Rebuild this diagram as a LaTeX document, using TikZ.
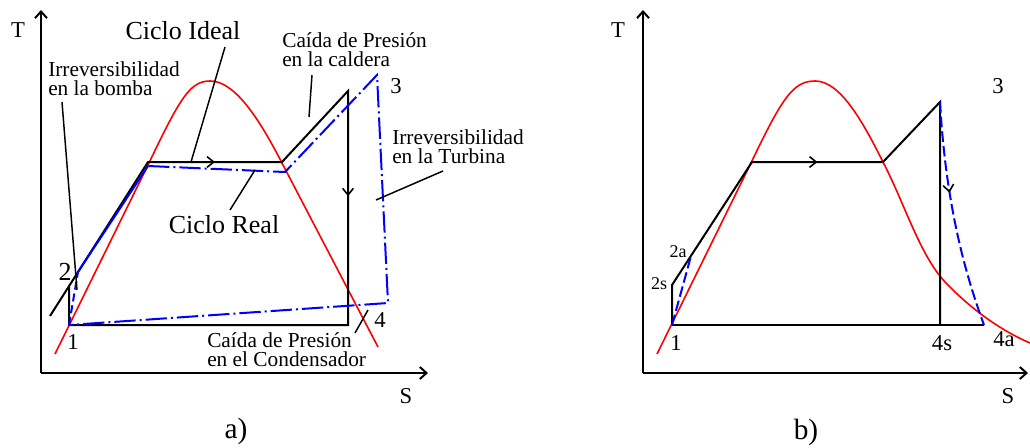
\documentclass[tikz,border=0pt]{standalone}
\usepackage{fontspec}
\setmainfont{Liberation Serif}
\usepackage{xcolor}
\usepackage{tikz}
\usetikzlibrary{arrows.meta,decorations.markings}
\definecolor{tsred}{RGB}{255,0,0}
\definecolor{tsblue}{RGB}{0,0,255}
\newcommand{\fgrande}{\fontsize{19.5}{22}\selectfont}
\newcommand{\fmedia}{\fontsize{16}{13.9}\selectfont}
\newcommand{\fejes}{\fontsize{17}{19}\selectfont}
\newcommand{\fpie}{\fontsize{22}{24}\selectfont}
\newcommand{\fchica}{\fontsize{13.5}{15}\selectfont}

\tikzset{
  ejes/.style={line width=1.5pt,-{Straight Barb[length=5pt,width=9pt]}},
  ideal/.style={line width=1.5pt,line join=miter},
  real/.style={line width=1.5pt,tsblue,dash pattern=on 16pt off 3pt on 1.5pt off 3pt},
  campana/.style={line width=1.2pt,tsred},
  guia/.style={line width=1.1pt},
  midarrow/.style={postaction={decorate,decoration={markings,
    mark=at position #1 with {\arrow[black,line width=1.2pt]{Straight Barb[length=5pt,width=8pt]}}}}},
  etq/.style={inner sep=0pt,anchor=base},
  etql/.style={inner sep=0pt,anchor=base west,align=left,font=\fmedia},
}

\begin{document}
\begin{tikzpicture}[x=0.75pt,y=-0.75pt]
  \useasboundingbox (0,0) rectangle (1030,447);

  % ---- a) ----
  \coordinate (aO) at (41,373);
  \coordinate (aT) at (41,10);
  \coordinate (aS) at (428,373);
  \draw[ejes] (aO) -- (aT);
  \draw[ejes] (aO) -- (aS);

  % campana de saturacion
  \draw[campana] (55,354) -- (148,165)
    .. controls (180,98) and (190,81) .. (210,81)
    .. controls (232,81) and (255,110) .. (283,165) -- (378,347);

  % ciclo ideal
  \coordinate (a1) at (69,325);
  \coordinate (a2) at (69,287);
  \coordinate (a2b) at (50,316);
  \coordinate (af) at (148,162);
  \coordinate (ag) at (282,162);
  \coordinate (a3) at (348,91);
  \coordinate (a4) at (348,325);
  \draw[ideal] (a2b) -- (af) -- (ag) -- (a3) -- (a4) -- (a1) -- (a2);
  \draw[ideal,midarrow=0.5] (af) -- (ag);
  \draw[ideal,midarrow=0.45] (a3) -- (a4);

  % ciclo real
  \coordinate (r2) at (78,272);
  \coordinate (rf) at (148,166);
  \coordinate (rg) at (285,172);
  \coordinate (r3) at (377,75);
  \coordinate (r4) at (388,303);
  \draw[real,dash pattern=on 6pt off 3pt] (a1) -- (r2);
  \draw[line width=1.5pt,tsblue] (r2) -- (rf);
  \draw[real] (rf) -- (rg) -- (r3) -- (r4) -- (a1);

  % lineas guia
  \draw[guia] (62,102) -- (77,290);
  \draw[guia] (225,47) -- (191,162);
  \draw[guia] (312,75) -- (309,117);
  \draw[guia] (443,171) -- (376,200);
  \draw[guia] (255,170) -- (230,210);
  \draw[guia] (368,310) -- (355,333);

  \node[etq,font=\fejes] (aTlab) at (18,37) {T};
  \node[etq,font=\fejes] (aSlab) at (406,403) {S};
  \node[etq,font=\fpie] (alab) at (236,438) {a)};
  \node[etq,font=\fgrande] (ideal) at (183,39) {Ciclo Ideal};
  \node[etq,font=\fgrande] (realc) at (224,233) {Ciclo Real};
  \node[etql] (cald) at (282,66) {Caída de Presión\\en la caldera};
  \node[etql] (bomb) at (48,95) {Irreversibilidad\\en la bomba};
  \node[etql] (turb) at (392,163) {Irreversibilidad\\en la Turbina};
  \node[etql] (cond) at (207,366) {Caída de Presión\\en el Condensador};
  \node[etq,font=\fejes] (n3a) at (396,93) {3};
  \node[etq,font=\fgrande] (n2a) at (65,280) {2};
  \node[etq,font=\fejes] (n1a) at (73,349) {1};
  \node[etq,font=\fejes] (n4a) at (380,327) {4};

  % ---- b) ----
  \coordinate (bO) at (643,373);
  \coordinate (bT) at (643,10);
  \coordinate (bS) at (1028,373);
  \draw[ejes] (bO) -- (bT);
  \draw[ejes] (bO) -- (bS);

  \draw[campana] (657,354) -- (750,165)
    .. controls (782,98) and (793,81) .. (815,81)
    .. controls (840,81) and (862,120) .. (884,164)
    .. controls (905,205) and (920,255) .. (945,282)
    .. controls (965,303) and (995,328) .. (1030,343);

  \coordinate (b1) at (672,325);
  \coordinate (b2s) at (672,285);
  \coordinate (b2a) at (691,256);
  \coordinate (bf) at (752,162);
  \coordinate (bg) at (883,162);
  \coordinate (b3) at (940,102);
  \coordinate (b4s) at (940,325);
  \coordinate (b4a) at (984,325);
  \draw[ideal] (b1) -- (b2s) -- (bf) -- (bg) -- (b3) -- (b4s);
  \draw[ideal] (b1) -- (b4a);
  \draw[ideal,midarrow=0.5] (bf) -- (bg);

  \draw[line width=1.5pt,tsblue,dash pattern=on 8pt off 3pt] (b1) -- (b2a);
  \draw[line width=1.5pt,tsblue,dash pattern=on 8pt off 3pt,midarrow=0.4]
    (b3) .. controls (945,190) and (960,260) .. (b4a);

  \node[etq,font=\fejes] (bTlab) at (618,37) {T};
  \node[etq,font=\fejes] (bSlab) at (1008,403) {S};
  \node[etq,font=\fpie] (blab) at (806,439) {b)};
  \node[etq,font=\fejes] (n3b) at (998,93) {3};
  \node[etq,font=\fchica] (n2ab) at (678,257) {2a};
  \node[etq,font=\fchica] (n2sb) at (659,289) {2s};
  \node[etq,font=\fejes] (n1b) at (676,350) {1};
  \node[etq,font=\fejes] (n4sb) at (942,350) {4s};
  \node[etq,font=\fejes] (n4ab) at (1004,346) {4a};
\end{tikzpicture}
\end{document}
